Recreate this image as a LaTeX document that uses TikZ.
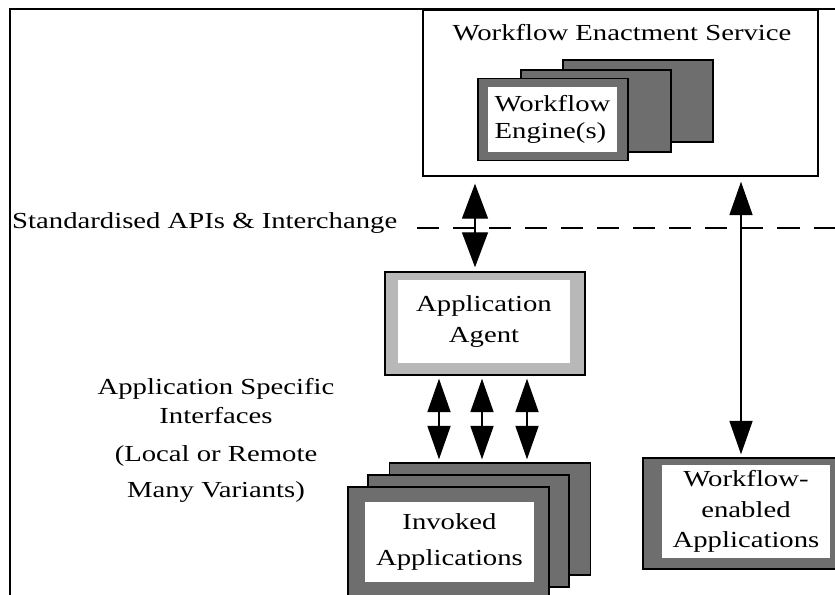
\documentclass[tikz,border=0pt]{standalone}
\usepackage{fontspec}
\setmainfont[FakeStretch=1.25]{Liberation Serif}
\usetikzlibrary{arrows.meta, calc}
\definecolor{cardgray}{gray}{0.43}
\definecolor{agentgray}{gray}{0.72}

\begin{document}
\begin{tikzpicture}[x=0.03cm, y=-0.03cm,
  every node/.style={font=\fontsize{19.6}{26}\selectfont, inner sep=0pt},
  card/.style={draw=black, fill=cardgray, line width=1.2pt},
  inner/.style={fill=white, align=center},
  bigarrow/.style={line width=1.2pt, <->, >={Triangle[width=0.78cm,length=1.05cm]}},
  smallarrow/.style={line width=1.2pt, <->, >={Triangle[width=0.69cm,length=1.0cm]}},
  dashline/.style={line width=1.5pt, dash pattern=on 0.66cm off 0.42cm}]
\clip (0,0) rectangle (835,595);

% outer frame
\draw[line width=1.8pt] (10,600) -- (10,9) -- (840,9);

% enactment service
\node[draw, line width=1.2pt, minimum width=11.85cm, minimum height=4.98cm] (wes) at (620.5,93) {};
\node (westitle) at (622,33) {Workflow Enactment Service};
\node[card, minimum width=4.5cm, minimum height=2.46cm] (eng3) at (638,101) {};
\node[card, minimum width=4.5cm, minimum height=2.46cm] (eng2) at (596,111) {};
\node[card, minimum width=4.5cm, minimum height=2.46cm] (eng1) at (553,119.5) {};
\node[inner, align=left, minimum width=3.87cm, minimum height=1.95cm] (engine) at (552.5,119.5) {Workflow\\[-3pt]Engine(s)};

% interchange line
\node[anchor=west] (apis) at (12,223) {Standardised APIs \& Interchange};
\coordinate (dashend) at (840,228);
\draw[dashline] ($(apis.east |- dashend)+(20,0)$) -- (dashend);

% application agent
\node[draw, fill=agentgray, line width=1.2pt, minimum width=6cm, minimum height=3.09cm] (agent) at (485,323.5) {};
\node[inner, minimum width=5.16cm, minimum height=2.49cm] (agenttxt) at (484,321.5) {Application\\[1pt]Agent};

% invoked applications
\node[card, minimum width=6.03cm, minimum height=3.36cm] (inv3) at (490,519) {};
\node[card, minimum width=6.03cm, minimum height=3.36cm] (inv2) at (468.5,531) {};
\node[card, minimum width=6.03cm, minimum height=3.36cm] (inv1) at (448.5,543) {};
\node[inner, minimum width=5.07cm, minimum height=2.4cm] (invoked) at (449.5,542) {Invoked\\[4pt]Applications};

% workflow-enabled applications
\node[card, minimum width=6.3cm, minimum height=3.33cm] (wfe) at (748,513.5) {};
\node[inner, minimum width=5.04cm, minimum height=2.79cm] (wfetxt) at (746,511.5) {Workflow-\\enabled\\Applications};

% side notes
\node[align=center] (asi) at (216,401) {Application Specific\\[-2pt]Interfaces};
\node[align=center] (lrm) at (216,474) {(Local or Remote\\[4pt]Many Variants)};

% connectors
\draw[bigarrow] ($(agent.north |- wes.south)+(-10,7)$) -- ($(agent.north)+(-10,-4)$);
\foreach \dx in {-46,-3,42}
  \draw[smallarrow] ($(agent.south)+(\dx,3)$) -- ($(agent.south |- inv3.north)+(\dx,-3)$);
\draw[smallarrow] ($(wfetxt.north |- wes.south)+(-5,5)$) -- ($(wfetxt.north |- wfe.north)+(-5,-3)$);
\end{tikzpicture}
\end{document}
